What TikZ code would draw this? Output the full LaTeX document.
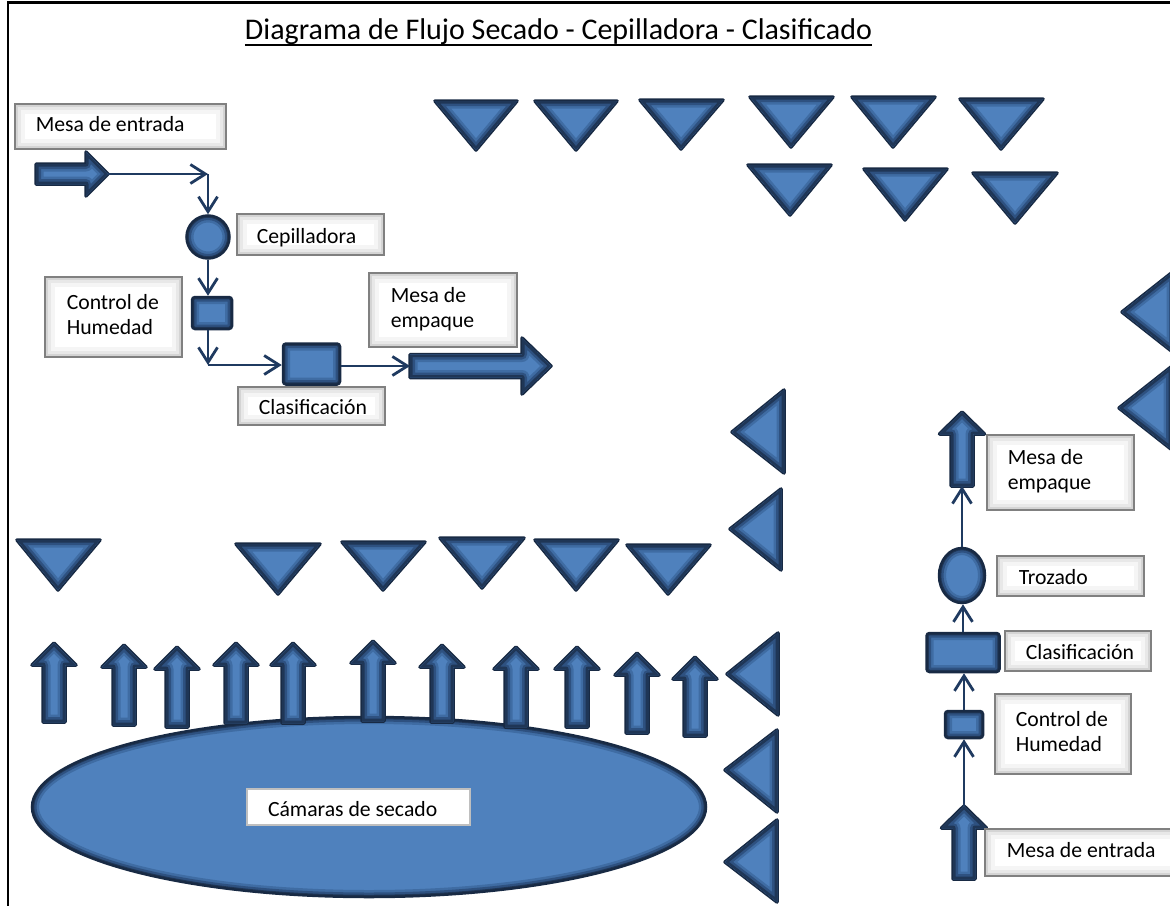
\documentclass[tikz,border=0pt]{standalone}
\usepackage{fontspec}
\setmainfont{Carlito}
\usetikzlibrary{arrows.meta,calc,shapes.geometric}

\definecolor{shapefill}{HTML}{4F81BD}
\definecolor{shapeedge}{HTML}{182A44}
\definecolor{glowdark}{HTML}{1F3656}
\definecolor{glowmid}{HTML}{2E5180}
\definecolor{glowsoft}{HTML}{3F6CA3}
\definecolor{flowline}{HTML}{1F3A60}
\definecolor{boxedge}{HTML}{808080}
\definecolor{tagedge}{HTML}{BFBFBF}

% left-aligned label text of a fixed width
\newcommand\boxtext[2]{\makebox[#1][l]{\begin{tabular}{@{}l@{}}#2\end{tabular}}}
% same, set a little below the middle of its box
\newcommand\lowtext[2]{\boxtext{#1}{\rule{0pt}{25.5pt}#2}}

% blue solid with a dark rim that fades inwards
\newcommand\glowshape[1]{%
  \filldraw[shapeedge, line width=3.5pt, line join=round] #1;
  \begin{scope}
    \clip #1;
    \fill[shapefill] #1;
    \draw[glowsoft, line width=15pt, line join=round] #1;
    \draw[glowmid, line width=10pt, line join=round] #1;
    \draw[glowdark, line width=5pt, line join=round] #1;
  \end{scope}}

% triangle pointing down: left x, right x, top y, apex x, apex y
\newcommand\downtri[5]{\glowshape{(#1+3,#3+2) -- (#2-3,#3+2) -- (#4,#5-3) -- cycle}}
% triangle pointing left: apex x, apex y, right x, top y, bottom y
\newcommand\lefttri[5]{\glowshape{(#1+3,#2) -- (#3-2,#4+3) -- (#3-2,#5-3) -- cycle}}

% block arrow pointing up: name, centre x, tip y, tail y, shaft half, head half, head length
\newcommand\upblock[7]{%
  \glowshape{(#2-#5,#4) -- (#2-#5,#3+#7) -- (#2-#6,#3+#7) -- (#2,#3) -- (#2+#6,#3+#7) -- (#2+#5,#3+#7) -- (#2+#5,#4) -- cycle}%
  \coordinate (#1-tip) at (#2,#3);
  \coordinate (#1-tail) at (#2,#4);}

% block arrow pointing right: name, tail x, tip x, centre y, shaft half, head half, head length
\newcommand\rightblock[7]{%
  \glowshape{(#2,#4-#5) -- (#3-#7,#4-#5) -- (#3-#7,#4-#6) -- (#3,#4) -- (#3-#7,#4+#6) -- (#3-#7,#4+#5) -- (#2,#4+#5) -- cycle}%
  \coordinate (#1-tip) at (#3,#4);
  \coordinate (#1-tail) at (#2,#4);}

\tikzset{
  label box/.style={rectangle, draw=boxedge, line width=1.5pt, fill=white,
    anchor=north west, inner ysep=0pt, font=\fontsize{21.7}{25}\selectfont,
    path picture={
      \draw[black!4, line width=20pt] (path picture bounding box.south west) rectangle (path picture bounding box.north east);
      \draw[black!9, line width=12pt] (path picture bounding box.south west) rectangle (path picture bounding box.north east);
      \draw[black!17, line width=6pt] (path picture bounding box.south west) rectangle (path picture bounding box.north east);
      \draw[black!30, line width=2.5pt] (path picture bounding box.south west) rectangle (path picture bounding box.north east);
    }},
  tag box/.style={rectangle, draw=tagedge, line width=2pt, fill=white,
    anchor=north west, inner ysep=0pt, font=\fontsize{21.7}{25}\selectfont},
  blue node/.style={draw=shapeedge, fill=shapefill, line width=2.5pt, inner sep=0pt},
  glow rect/.style={blue node, rectangle, rounded corners=3pt,
    path picture={
      \draw[glowsoft, line width=14pt, rounded corners=3pt] (path picture bounding box.south west) rectangle (path picture bounding box.north east);
      \draw[glowmid, line width=9pt, rounded corners=3pt] (path picture bounding box.south west) rectangle (path picture bounding box.north east);
      \draw[glowdark, line width=4.5pt, rounded corners=3pt] (path picture bounding box.south west) rectangle (path picture bounding box.north east);
    }},
  glow ellipse/.style={blue node, ellipse,
    path picture={
      \draw[glowsoft, line width=14pt] let \p1=($(path picture bounding box.north east)-(path picture bounding box.center)$) in
        (path picture bounding box.center) ellipse [x radius=\x1, y radius=\y1];
      \draw[glowmid, line width=9pt] let \p1=($(path picture bounding box.north east)-(path picture bounding box.center)$) in
        (path picture bounding box.center) ellipse [x radius=\x1, y radius=\y1];
      \draw[glowdark, line width=4.5pt] let \p1=($(path picture bounding box.north east)-(path picture bounding box.center)$) in
        (path picture bounding box.center) ellipse [x radius=\x1, y radius=\y1];
    }},
  flow/.style={draw=flowline, line width=2.8pt, -{Straight Barb[length=15pt, width=19pt]}},
}

\begin{document}
\begin{tikzpicture}[x=1pt, y=-1pt]
\useasboundingbox (0,0) rectangle (1170,905);
\fill[white] (0,0) rectangle (1170,905);
\clip (0,0) rectangle (1170,905);

% frame
\draw[line width=2.5pt] (8,910) -- (8,2.5) -- (1175,2.5);

% title
\node[font=\fontsize{30}{36}\selectfont, anchor=base, inner sep=0pt] (title) at (558.5,39)
  {Diagrama de Flujo Secado - Cepilladora - Clasificado};
\draw[line width=2pt] ([yshift=-5.5pt]title.base west) -- ([yshift=-5.5pt]title.base east);

% rows of triangles, top right
\downtri{432}{520}{99}{476}{153}
\downtri{532}{620}{99}{576}{153}
\downtri{637}{726}{98}{681}{152}
\downtri{747}{836}{95}{791}{150}
\downtri{849}{938}{95}{893}{150}
\downtri{957}{1046}{97}{1001}{152}
\downtri{745}{834}{163}{790}{218}
\downtri{861}{950}{167}{905}{223}
\downtri{970}{1060}{171}{1015}{226}

% middle row of triangles
\downtri{14}{103}{538}{58}{593}
\downtri{233}{323}{542}{278}{597}
\downtri{339}{428}{540}{383}{593}
\downtri{437}{527}{536}{482}{591}
\downtri{532}{621}{538}{576}{593}
\downtri{624}{713}{543}{668}{597}

% column of triangles pointing left
\lefttri{729}{432}{786}{387}{476}
\lefttri{727}{529}{783}{486}{573}
\lefttri{724}{674}{780}{630}{718}
\lefttri{722}{770}{779}{727}{815}
\lefttri{722}{862}{779}{817}{905}
\lefttri{1119}{312}{1176}{268}{356}
\lefttri{1116}{408}{1173}{364}{452}

% drying chambers
\node[glow ellipse, minimum width=674pt, minimum height=180pt] (camaras) at (369,807) {};
\node[tag box, minimum width=223pt, minimum height=36pt, inner xsep=21pt] (lblCamaras) at (246,788)
  {\lowtext{181pt}{Cámaras de secado}};

% air flow arrows above the chambers
\upblock{air1}{54}{643}{722}{11}{22}{22}
\upblock{air2}{124}{645}{725}{11}{22}{22}
\upblock{air3}{177}{647}{727}{11}{22}{22}
\upblock{air4}{236}{643}{723}{11}{22}{22}
\upblock{air5}{293}{643}{723}{11}{22}{22}
\upblock{air6}{373}{641}{721}{11}{22}{22}
\upblock{air7}{442}{645}{722}{11}{22}{22}
\upblock{air8}{516}{647}{727}{11}{22}{22}
\upblock{air9}{577}{647}{727}{11}{22}{22}
\upblock{air10}{637}{653}{733}{11}{22}{22}
\upblock{air11}{695}{657}{736}{11}{22}{22}

% ---- upper-left line: brushing and grading ----
\rightblock{inA}{36}{108}{174}{10}{22}{22}
\rightblock{outA}{410}{551}{366}{11.5}{28}{29}
\node[glow ellipse, minimum width=43pt, minimum height=43pt] (cep) at (208,237) {};
\node[glow rect, minimum width=40pt, minimum height=32pt] (humA) at (212,313) {};
\node[glow rect, minimum width=57pt, minimum height=41pt] (clsA) at (311.5,364) {};
\coordinate (bendA) at (208,174);
\coordinate (bendB) at (208,365);

\node[label box, minimum width=211pt, minimum height=45pt, inner xsep=21pt] (lblEntradaA) at (14,103)
  {\boxtext{169pt}{Mesa de entrada}};
\node[label box, minimum width=147pt, minimum height=41pt, inner xsep=20pt] (lblCep) at (236,213)
  {\lowtext{107pt}{Cepilladora}};
\node[label box, minimum width=137pt, minimum height=80pt, inner xsep=22pt] (lblHumA) at (44,276)
  {\boxtext{93pt}{Control de\\Humedad}};
\node[label box, minimum width=148pt, minimum height=74pt, inner xsep=22pt] (lblEmpA) at (368,272)
  {\boxtext{104pt}{Mesa de\\empaque}};
\node[label box, minimum width=147pt, minimum height=38pt, inner xsep=21pt] (lblClsA) at (237,386)
  {\lowtext{105pt}{Clasificación}};

\draw[flow] (inA-tip) -- (bendA);
\draw[flow] (bendA) -- (cep.north);
\draw[flow] (cep.south) -- (cep.south |- humA.north);
\draw[flow] (cep.south |- humA.south) -- (bendB);
\draw[flow] (bendB) -- (bendB -| clsA.west);
\draw[flow] (clsA.east |- outA-tail) -- (outA-tail);

% ---- right line: grading and cutting ----
\upblock{inB}{964}{806}{879}{11}{22.5}{22}
\upblock{outB}{962}{412}{486}{11}{22.5}{22}
\node[glow rect, minimum width=38pt, minimum height=27pt] (humB) at (964,724.5) {};
\node[glow rect, minimum width=73pt, minimum height=39pt] (clsB) at (963,652.5) {};
\node[glow ellipse, minimum width=46pt, minimum height=55pt] (troz) at (962,575.5) {};

\node[label box, minimum width=147pt, minimum height=75pt, inner xsep=21pt] (lblEmpB) at (986,434)
  {\boxtext{105pt}{Mesa de\\empaque}};
\node[label box, minimum width=147pt, minimum height=40pt, inner xsep=22pt] (lblTroz) at (996,555)
  {\lowtext{103pt}{Trozado}};
\node[label box, minimum width=146pt, minimum height=40pt, inner xsep=21pt] (lblClsB) at (1004,630)
  {\lowtext{104pt}{Clasificación}};
\node[label box, minimum width=136pt, minimum height=80pt, inner xsep=21pt] (lblHumB) at (994,693)
  {\boxtext{94pt}{Control de\\Humedad}};
\node[label box, minimum width=196pt, minimum height=47pt, inner xsep=22pt] (lblEntradaB) at (984,828)
  {\boxtext{152pt}{Mesa de entrada}};

\draw[flow] (inB-tip) -- (inB-tip |- humB.south);
\draw[flow] (humB.north) -- (humB.north |- clsB.south);
\draw[flow] (clsB.north) -- (clsB.north |- troz.south);
\draw[flow] (troz.north) -- (troz.north |- outB-tail);
\end{tikzpicture}
\end{document}
